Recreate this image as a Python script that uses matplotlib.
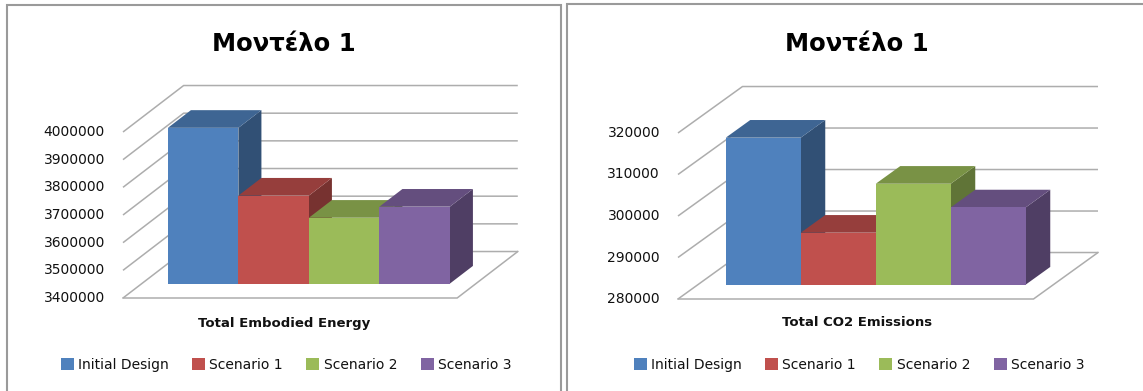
import matplotlib
matplotlib.use("Agg")
import matplotlib.pyplot as plt
from matplotlib.colors import to_rgb
from matplotlib.patches import Polygon, Rectangle

# ── Data ──────────────────────────────────────────────────────────────────────

SERIES = ["Initial Design", "Scenario 1", "Scenario 2", "Scenario 3"]
COLORS = ["#4F81BD", "#C0504D", "#9BBB59", "#8064A2"]

TITLE = "Μοντέλο 1"

ENERGY_LABEL = "Total Embodied Energy"
ENERGY_VALUES = [3963000, 3718000, 3638000, 3678000]
ENERGY_TICKS = [3400000, 3500000, 3600000, 3700000, 3800000, 3900000, 4000000]

CO2_LABEL = "Total CO2 Emissions"
CO2_VALUES = [315400, 292500, 304300, 298600]
CO2_TICKS = [280000, 290000, 300000, 310000, 320000]

# ── Style / layout ────────────────────────────────────────────────────────────

W, H = 1143, 391
FONT = "DejaVu Sans"
GRID = "#ADADAD"
DEPTH_X = 0.86      # depth shift in bar widths
DEPTH_Y = 0.28      # depth shift as fraction of the value range
BAR_D0, BAR_D1 = 0.31, 0.69
GAP = 0.37          # floor margin on each side of the bar group


def shade(c, f):
    return tuple(k * f for k in to_rgb(c))


def fx(px):
    return px / W


def fy(py):
    return 1 - py / H


def draw_chart(fig, ax_px, values, ticks, xlabel, floor_left, floor_y,
               unit_px, range_px, center_x):
    ymin, ymax = ticks[0], ticks[-1]
    dy = DEPTH_Y * (ymax - ymin)
    xl, xr = -0.5 - GAP, len(values) - 0.5 + GAP

    ax = fig.add_axes([fx(ax_px[0]), 0, fx(ax_px[1] - ax_px[0]), 1])
    ax.set_axis_off()
    ax.patch.set_alpha(0)
    x0 = xl - (floor_left - ax_px[0]) / unit_px
    ax.set_xlim(x0, x0 + (ax_px[1] - ax_px[0]) / unit_px)
    vpp = (ymax - ymin) / range_px
    ax.set_ylim(ymin - (H - floor_y) * vpp, ymin + floor_y * vpp)

    def P(x, v, d):
        return (x + d * DEPTH_X, v + d * dy)

    # walls and floor
    for t in ticks:
        a, b = P(xl, t, 0), P(xl, t, 1)
        c = P(xr, t, 1)
        ax.plot([a[0], b[0], c[0]], [a[1], b[1], c[1]], color=GRID,
                lw=1.1, zorder=1, solid_capstyle="butt")
        ax.annotate(f"{t}", xy=a, xytext=(-18, 0), textcoords="offset pixels",
                    ha="right", va="center", fontsize=10, family=FONT,
                    color="#111111")
    f = [P(xl, ymin, 0), P(xr, ymin, 0), P(xr, ymin, 1)]
    ax.plot([p[0] for p in f], [p[1] for p in f], color=GRID, lw=1.1,
            zorder=1)

    # bars, painted left to right
    for i, (v, col, name) in enumerate(zip(values, COLORS, SERIES)):
        bl, br = i - 0.5, i + 0.5
        z = 3 + 3 * i
        side = [P(br, ymin, BAR_D0), P(br, v, BAR_D0),
                P(br, v, BAR_D1), P(br, ymin, BAR_D1)]
        top = [P(bl, v, BAR_D0), P(br, v, BAR_D0),
               P(br, v, BAR_D1), P(bl, v, BAR_D1)]
        ax.add_patch(Polygon(side, closed=True, fc=shade(col, 0.62),
                             lw=0, zorder=z))
        ax.add_patch(Polygon(top, closed=True, fc=shade(col, 0.78),
                             lw=0, zorder=z + 1))
        fx0, fy0 = P(i, ymin, BAR_D0)
        ax.bar(fx0, v - ymin, bottom=fy0, width=1.0, color=col, lw=0,
               zorder=z + 2, label=name)

    fig.text(fx(center_x), fy(51), TITLE, ha="center", va="baseline",
             fontsize=17.5, fontweight="bold", family=FONT, color="black")
    fig.text(fx(center_x), fy(323), xlabel, ha="center", va="center",
             fontsize=9.5, fontweight="bold", family=FONT, color="#111111")

    handles, labels = ax.get_legend_handles_labels()
    fig.legend(handles, labels, loc="center", ncol=4, frameon=False,
               bbox_to_anchor=(fx(center_x + 2), fy(365)),
               prop={"family": FONT, "size": 10},
               handlelength=0.93, handleheight=0.93, handletextpad=0.3,
               columnspacing=1.7, borderpad=0, labelcolor="#111111")


fig = plt.figure(figsize=(W / 100, H / 100), dpi=100)
fig.patch.set_facecolor("white")

# panel frames
for x_left, x_right, y_top in [(7, 561, 5), (567, 1160, 4)]:
    fig.patches.append(Rectangle((fx(x_left), fy(H + 20)),
                                 fx(x_right - x_left), (H + 20 - y_top) / H,
                                 transform=fig.transFigure, fill=False,
                                 ec="#9A9A9A", lw=1.5))

draw_chart(fig, (0, 564), ENERGY_VALUES, ENERGY_TICKS, ENERGY_LABEL,
           floor_left=123, floor_y=298, unit_px=70.5, range_px=166,
           center_x=284)
draw_chart(fig, (564, W), CO2_VALUES, CO2_TICKS, CO2_LABEL,
           floor_left=678, floor_y=299, unit_px=75, range_px=166,
           center_x=857)

fig.savefig("out.png", dpi=100)
